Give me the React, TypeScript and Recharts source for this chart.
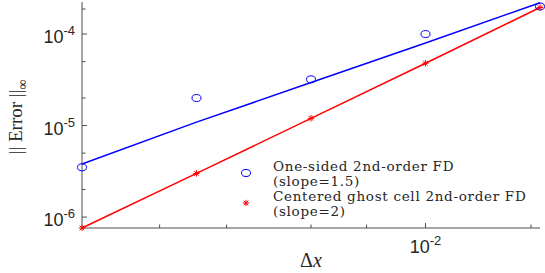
import React from "react";
import { ComposedChart, Line, Scatter, XAxis, YAxis, Legend } from "recharts";

// grid spacing (x) and measured / fitted errors
const dxValues = [0.00125, 0.0025, 0.005, 0.01, 0.02];
const oneSidedErr = [3.5e-6, 2.0e-5, 3.2e-5, 1.0e-4, 2.0e-4];
const oneSidedFit = [3.8e-6, 1.09e-5, 2.95e-5, 8.0e-5, 2.2e-4];
const centeredErr = [7.6e-7, 3.0e-6, 1.2e-5, 4.8e-5, 1.95e-4];

const xTicks = [0.002, 0.003, 0.004, 0.005, 0.006, 0.007, 0.008, 0.009, 0.01, 0.02];
const yTicks = [
  8e-7, 9e-7, 1e-6, 2e-6, 3e-6, 4e-6, 5e-6, 6e-6, 7e-6, 8e-6, 9e-6,
  1e-5, 2e-5, 3e-5, 4e-5, 5e-5, 6e-5, 7e-5, 8e-5, 9e-5, 1e-4, 2e-4,
];

const legendLabels = [
  ["One-sided 2nd-order FD", "(slope=1.5)"],
  ["Centered ghost cell 2nd-order FD", "(slope=2)"],
];

const data = dxValues.map((dx, i) => ({
  dx,
  oneSidedErr: oneSidedErr[i],
  oneSidedFit: oneSidedFit[i],
  centeredErr: centeredErr[i],
}));

const AXIS = "#4d4d4d";
const BLUE = "#0000ff";
const RED = "#ff0000";
const TICK_FONT = "'Liberation Sans', Arial, sans-serif";
const SERIF = "'DejaVu Serif', serif";

const isDecade = (v: number) => {
  const l = Math.log10(v);
  return Math.abs(l - Math.round(l)) < 1e-9;
};

const Pow10 = ({ v }: { v: number }) => (
  <>
    <tspan fontSize={18}>10</tspan>
    <tspan fontSize={13} dy={-8}>
      {String(Math.round(Math.log10(v)))}
    </tspan>
  </>
);

const BottomTick = (props: any) => {
  const { x, y, payload } = props;
  const major = isDecade(payload.value);
  return (
    <g>
      <line x1={x} y1={y} x2={x} y2={y - (major ? 5 : 3.5)} stroke={AXIS} />
      {major && (
        <text x={x} y={y + 25} textAnchor="middle" fill="#262626" fontFamily={TICK_FONT}>
          <Pow10 v={payload.value} />
        </text>
      )}
    </g>
  );
};

const TopTick = (props: any) => {
  const { x, y, payload } = props;
  const major = isDecade(payload.value);
  return <line x1={x} y1={y} x2={x} y2={y + (major ? 5 : 3.5)} stroke={AXIS} />;
};

const LeftTick = (props: any) => {
  const { x, y, payload } = props;
  const major = isDecade(payload.value);
  return (
    <g>
      <line x1={x} y1={y} x2={x + (major ? 5 : 3.5)} y2={y} stroke={AXIS} />
      {major && (
        <text x={x - 7} y={y + 9} textAnchor="end" fill="#262626" fontFamily={TICK_FONT}>
          <Pow10 v={payload.value} />
        </text>
      )}
    </g>
  );
};

const RightTick = (props: any) => {
  const { x, y, payload } = props;
  const major = isDecade(payload.value);
  return <line x1={x} y1={y} x2={x - (major ? 5 : 3.5)} y2={y} stroke={AXIS} />;
};

const Circle = ({ cx, cy }: any) => (
  <ellipse cx={cx} cy={cy} rx={4.5} ry={3.5} fill="none" stroke={BLUE} strokeWidth={1} />
);

const Star = ({ cx, cy }: any) => {
  const r = 3.2;
  const d = r * 0.72;
  return (
    <g stroke={RED} strokeWidth={1}>
      <line x1={cx - r} y1={cy} x2={cx + r} y2={cy} />
      <line x1={cx} y1={cy - r} x2={cx} y2={cy + r} />
      <line x1={cx - d} y1={cy - d} x2={cx + d} y2={cy + d} />
      <line x1={cx - d} y1={cy + d} x2={cx + d} y2={cy - d} />
    </g>
  );
};

const YLabel = (props: any) => {
  const { viewBox } = props;
  const cx = viewBox.x + 22;
  const cy = 117;
  return (
    <text
      x={cx}
      y={cy}
      transform={`rotate(-90, ${cx}, ${cy})`}
      textAnchor="middle"
      fontFamily="'Liberation Serif', serif"
      fontSize={19}
      fill="#262626"
    >
      || Error ||<tspan dy={5} fontSize={14}>∞</tspan>
    </text>
  );
};

const XLabel = (props: any) => {
  const { viewBox } = props;
  return (
    <text
      x={viewBox.x + viewBox.width / 2}
      y={viewBox.y + 39}
      textAnchor="middle"
      fontFamily="'Liberation Serif', serif"
      fontSize={20}
      fill="#262626"
    >
      Δ<tspan fontStyle="italic">x</tspan>
    </text>
  );
};

const LegendBox = () => (
  <div
    style={{
      fontFamily: SERIF,
      fontSize: 13.5,
      letterSpacing: "0.7px",
      lineHeight: "14.5px",
      color: "#262626",
    }}
  >
    {legendLabels.map((lines, i) => (
      <div key={i} style={{ display: "flex", marginBottom: 1 }}>
        <svg width={33} height={29} style={{ flexShrink: 0 }}>
          {i === 0 ? <Circle cx={6} cy={14} /> : <Star cx={6} cy={14} />}
        </svg>
        <div>
          {lines.map((t) => (
            <div key={t} style={{ whiteSpace: "nowrap" }}>{t}</div>
          ))}
        </div>
      </div>
    ))}
  </div>
);

export default function App() {
  return (
    <div style={{ position: "absolute", left: 0, top: 0, background: "#fff" }}>
      <ComposedChart
        width={545}
        height={273}
        data={data}
        margin={{ top: 2, right: 5, bottom: 0, left: 0 }}
      >
        <XAxis
          dataKey="dx"
          type="number"
          scale="log"
          domain={[0.00125, 0.02]}
          ticks={xTicks}
          tick={BottomTick}
          tickSize={0}
          tickMargin={0}
          tickLine={false}
          height={45}
          axisLine={{ stroke: AXIS }}
          label={<XLabel />}
        />
        <XAxis
          xAxisId="top"
          orientation="top"
          type="number"
          scale="log"
          domain={[0.00125, 0.02]}
          allowDataOverflow
          ticks={xTicks}
          tick={TopTick}
          tickSize={0}
          tickMargin={0}
          tickLine={false}
          height={0}
          axisLine={{ stroke: AXIS }}
        />
        <YAxis
          type="number"
          scale="log"
          domain={[7.6e-7, 2.24e-4]}
          ticks={yTicks}
          tick={LeftTick}
          tickSize={0}
          tickMargin={0}
          tickLine={false}
          width={82}
          axisLine={{ stroke: AXIS }}
          label={<YLabel />}
        />
        <YAxis
          yAxisId="right"
          orientation="right"
          type="number"
          scale="log"
          domain={[7.6e-7, 2.24e-4]}
          allowDataOverflow
          ticks={yTicks}
          tick={RightTick}
          tickSize={0}
          tickMargin={0}
          tickLine={false}
          width={0}
          axisLine={{ stroke: AXIS }}
        />
        <Line
          dataKey="oneSidedFit"
          stroke={BLUE}
          strokeWidth={1.5}
          dot={false}
          isAnimationActive={false}
        />
        <Line
          dataKey="centeredErr"
          stroke={RED}
          strokeWidth={1.5}
          dot={false}
          isAnimationActive={false}
        />
        <Scatter dataKey="oneSidedErr" shape={Circle} isAnimationActive={false} />
        <Scatter dataKey="centeredErr" shape={Star} isAnimationActive={false} />
        <Legend
          layout="vertical"
          align="center"
          verticalAlign="middle"
          content={<LegendBox />}
          wrapperStyle={{ left: 240, top: 159, width: "auto", height: "auto" }}
        />
      </ComposedChart>
    </div>
  );
}
